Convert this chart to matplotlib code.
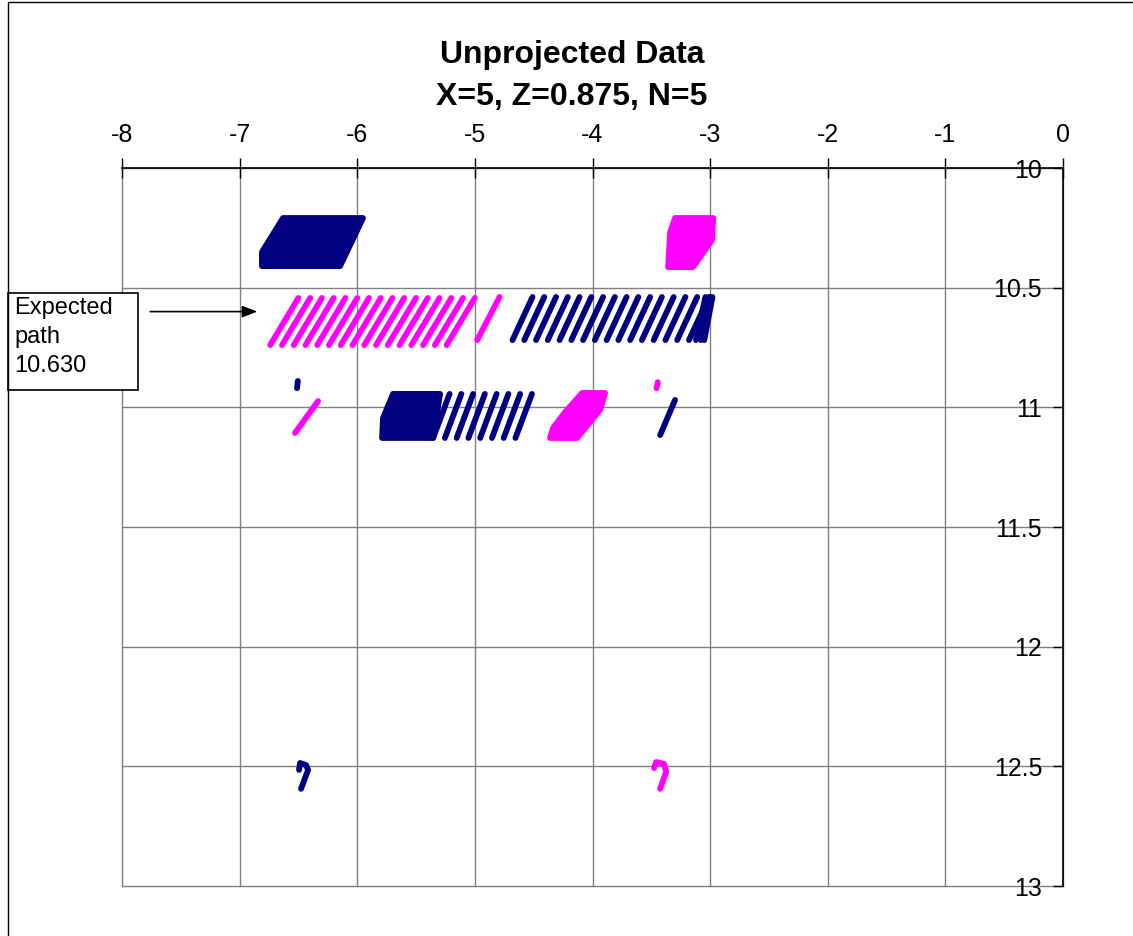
import matplotlib
matplotlib.use("Agg")
import matplotlib.pyplot as plt
from matplotlib.patches import Rectangle, Polygon

plt.rcParams['font.family'] = ['Liberation Sans', 'DejaVu Sans']

NAVY = '#000080'
MAGENTA = '#FF00FF'

# ---- scan strokes: bottom x, top x, shared bottom/top y per band ----
# upper band, magenta strokes
mag_band_x_bottom = [-6.74, -6.64, -6.54, -6.44, -6.34, -6.24, -6.14, -6.04,
                     -5.94, -5.84, -5.74, -5.64, -5.54, -5.44, -5.34, -5.24]
mag_band_dx = 0.24
mag_band_y = (10.740, 10.543)
# upper band, single magenta stroke
mag_single_x = [-4.98, -4.79]
mag_single_y = [10.719, 10.539]
# upper band, navy strokes
navy_band_x_bottom = [-4.68, -4.58, -4.48, -4.38, -4.28, -4.18, -4.08, -3.98,
                      -3.88, -3.78, -3.68, -3.58, -3.48, -3.38, -3.28, -3.18,
                      -3.12, -3.08, -3.05]
navy_band_x_top = [-4.51, -4.41, -4.31, -4.21, -4.11, -4.01, -3.91, -3.81,
                   -3.71, -3.61, -3.51, -3.41, -3.31, -3.21, -3.11, -3.01,
                   -3.04, -3.00, -2.98]
navy_band_y = (10.719, 10.539)
# middle band, navy strokes right of the block
navy_mid_x_bottom = [-5.355, -5.255, -5.155, -5.055, -4.955, -4.855, -4.755, -4.655]
navy_mid_dx = 0.14
navy_mid_y = (11.128, 10.944)
# middle band, isolated strokes
mag_mid_stroke_x = [-6.529, -6.333]
mag_mid_stroke_y = [11.107, 10.974]
navy_mid_stroke_x = [-3.425, -3.298]
navy_mid_stroke_y = [11.116, 10.969]
navy_mid_dot_x = [-6.512, -6.505]
navy_mid_dot_y = [10.92, 10.89]
mag_mid_dot_x = [-3.455, -3.445]
mag_mid_dot_y = [10.92, 10.895]

# ---- dense blocks (outline vertices) ----
navy_block1_x = [-6.631, -5.951, -6.146, -6.810, -6.810]
navy_block1_y = [10.209, 10.209, 10.410, 10.410, 10.351]
mag_block1_x = [-3.298, -2.974, -2.983, -3.145, -3.357, -3.340]
mag_block1_y = [10.209, 10.209, 10.301, 10.414, 10.414, 10.268]
navy_block2_x = [-5.696, -5.296, -5.355, -5.789, -5.781]
navy_block2_y = [10.944, 10.944, 11.128, 11.128, 11.045]
mag_block2_x = [-4.088, -3.893, -3.935, -4.131, -4.361, -4.335, -4.233]
mag_block2_y = [10.940, 10.940, 11.011, 11.128, 11.128, 11.086, 11.020]

# ---- lower hooks ----
navy_hook_x = [-6.495, -6.486, -6.435, -6.418, -6.478]
navy_hook_y = [12.515, 12.486, 12.495, 12.515, 12.594]
mag_hook_x = [-3.476, -3.459, -3.391, -3.374, -3.425]
mag_hook_y = [12.507, 12.482, 12.490, 12.524, 12.594]

x_ticks = [-8, -7, -6, -5, -4, -3, -2, -1, 0]
y_ticks = [10, 10.5, 11, 11.5, 12, 12.5, 13]
y_tick_labels = ['10', '10.5', '11', '11.5', '12', '12.5', '13']

expected_path = 10.630

W, H = 1133, 936
fig = plt.figure(figsize=(W / 100, H / 100), dpi=100)
ax = fig.add_axes([122 / W, 1 - 886 / H, (1063 - 122) / W, (886 - 168) / H])

LW = 4.2
stroke_kw = dict(lw=LW, solid_capstyle='round', solid_joinstyle='round', zorder=3)

for xb in mag_band_x_bottom:
    ax.plot([xb, xb + mag_band_dx], list(mag_band_y), color=MAGENTA, **stroke_kw)
ax.plot(mag_single_x, mag_single_y, color=MAGENTA, **stroke_kw)
for xb, xt in zip(navy_band_x_bottom, navy_band_x_top):
    ax.plot([xb, xt], list(navy_band_y), color=NAVY, **stroke_kw)
for xb in navy_mid_x_bottom:
    ax.plot([xb, xb + navy_mid_dx], list(navy_mid_y), color=NAVY, **stroke_kw)
ax.plot(mag_mid_stroke_x, mag_mid_stroke_y, color=MAGENTA, **stroke_kw)
ax.plot(navy_mid_stroke_x, navy_mid_stroke_y, color=NAVY, **stroke_kw)
ax.plot(navy_mid_dot_x, navy_mid_dot_y, color=NAVY, **stroke_kw)
ax.plot(mag_mid_dot_x, mag_mid_dot_y, color=MAGENTA, **stroke_kw)
ax.plot(navy_hook_x, navy_hook_y, color=NAVY, **stroke_kw)
ax.plot(mag_hook_x, mag_hook_y, color=MAGENTA, **stroke_kw)

for bx, by, col in [(navy_block1_x, navy_block1_y, NAVY),
                    (mag_block1_x, mag_block1_y, MAGENTA),
                    (navy_block2_x, navy_block2_y, NAVY),
                    (mag_block2_x, mag_block2_y, MAGENTA)]:
    ax.add_patch(Polygon(list(zip(bx, by)), closed=True, facecolor=col,
                         edgecolor=col, lw=LW, joinstyle='round', zorder=3))

ax.set_xlim(-8, 0)
ax.set_ylim(13, 10)

ax.xaxis.tick_top()
ax.yaxis.tick_right()
ax.set_xticks(x_ticks)
ax.set_xticklabels([str(v) for v in x_ticks])
ax.set_yticks(y_ticks)
ax.set_yticklabels(y_tick_labels)
ax.tick_params(axis='x', direction='inout', length=14, width=1, pad=8,
               labelsize=18, colors='black')
ax.tick_params(axis='y', direction='in', length=7, width=1, pad=-15,
               labelsize=18, colors='black')
for lbl in ax.get_yticklabels():
    lbl.set_horizontalalignment('right')

ax.grid(True, color='#808080', lw=1)
for gl in ax.get_xgridlines() + ax.get_ygridlines():
    gl.set_clip_on(False)
ax.set_axisbelow(True)
for side in ['left', 'bottom']:
    ax.spines[side].set_visible(False)
for side in ['top', 'right']:
    ax.spines[side].set_color('black')
    ax.spines[side].set_linewidth(1.2)

# titles
fig.text(572 / W, 1 - 63 / H, 'Unprojected Data', ha='center', va='baseline',
         fontsize=23, fontweight='bold')
fig.text(572 / W, 1 - 105 / H, 'X=5, Z=0.875, N=5', ha='center', va='baseline',
         fontsize=23, fontweight='bold')

# outer chart frame
fig.patches.append(Rectangle((8 / W, -0.1), 1.2, 1 - 2 / H + 0.1,
                             transform=fig.transFigure, fill=False,
                             edgecolor='black', lw=1))

# expected-path callout
ax.add_patch(Rectangle((-8.969, 10.522), 1.105, 0.406, facecolor='white',
                       edgecolor='black', lw=1.2, clip_on=False, zorder=5))
ax.text(-8.915, 10.538, f'Expected\npath\n{expected_path:.3f}', ha='left', va='top',
        fontsize=17, linespacing=1.42, clip_on=False, zorder=6)
ax.annotate('', xy=(-6.85, 10.60), xytext=(-7.76, 10.60),
            arrowprops=dict(arrowstyle='-|>,head_length=0.9,head_width=0.35',
                            color='black', lw=1.2, shrinkA=0, shrinkB=0),
            annotation_clip=False, zorder=6)

fig.savefig('out.png', dpi=100)
